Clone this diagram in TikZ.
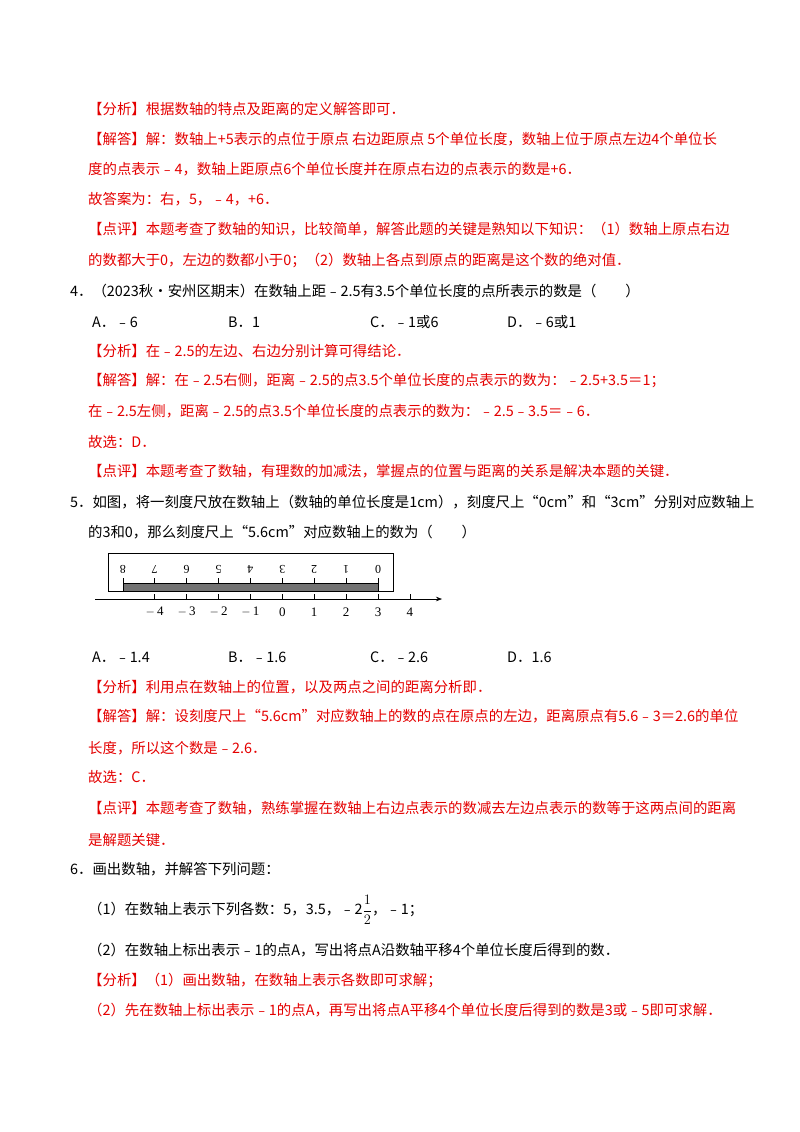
\documentclass[tikz,border=0pt]{standalone}
\usepackage{fontspec}
\usetikzlibrary{arrows.meta}
\setmainfont{Noto Sans CJK SC}
\newfontfamily\numf{Liberation Serif}
\definecolor{myred}{RGB}{228,0,0}
\begin{document}
\begin{tikzpicture}[x=1pt,y=-1pt,
  t/.style={anchor=west,inner sep=0pt,font=\fontsize{14.4}{14.4}\selectfont},
  r/.style={t,text=myred},
  rn/.style={font=\numf\fontsize{12}{12}\selectfont,rotate=180,inner sep=0pt},
  an/.style={font=\numf\fontsize{13}{13}\selectfont,inner sep=0pt}]
\useasboundingbox (0,0) rectangle (800,1132);
\node[r] (l1) at (88,109) {【分析】根据数轴的特点及距离的定义解答即可．};
\node[r] (l2) at (88,139) {【解答】解：数轴上+5表示的点位于原点 右边距原点 5个单位长度，数轴上位于原点左边4个单位长};
\node[r] (l3) at (88,169) {度的点表示﹣4，数轴上距原点6个单位长度并在原点右边的点表示的数是+6．};
\node[r] (l4) at (88,199) {故答案为：右，5，﹣4，+6．};
\node[r] (l5) at (88,229) {【点评】本题考查了数轴的知识，比较简单，解答此题的关键是熟知以下知识：（1）数轴上原点右边};
\node[r] (l6) at (88,260) {的数都大于0，左边的数都小于0；（2）数轴上各点到原点的距离是这个数的绝对值．};
\node[t] (q4) at (70,291) {4．（2023秋•安州区期末）在数轴上距﹣2.5有3.5个单位长度的点所表示的数是（　　）};
\node[t] (a4a) at (92,322) {A．﹣6};
\node[t] (a4b) at (228,322) {B．1};
\node[t] (a4c) at (370,322) {C．﹣1或6};
\node[t] (a4d) at (507,322) {D．﹣6或1};
\node[r] (m1) at (88,351) {【分析】在﹣2.5的左边、右边分别计算可得结论．};
\node[r] (m2) at (88,381) {【解答】解：在﹣2.5右侧，距离﹣2.5的点3.5个单位长度的点表示的数为：﹣2.5+3.5＝1；};
\node[r] (m3) at (88,411) {在﹣2.5左侧，距离﹣2.5的点3.5个单位长度的点表示的数为：﹣2.5﹣3.5＝﹣6．};
\node[r] (m4) at (88,442) {故选：\textit{D}．};
\node[r] (m5) at (88,471) {【点评】本题考查了数轴，有理数的加减法，掌握点的位置与距离的关系是解决本题的关键．};
\node[t] (q5) at (70,502) {5．如图，将一刻度尺放在数轴上（数轴的单位长度是1\textit{cm}），刻度尺上“0\textit{cm}”和“3\textit{cm}”分别对应数轴上};
\node[t] (q5b) at (88,532) {的3和0，那么刻度尺上“5.6\textit{cm}”对应数轴上的数为（　　）};
% ruler
\draw[line width=0.7pt] (108,553) rectangle (393,591);
\fill[black!55,draw=black,line width=0.6pt] (123,583) rectangle (378,591);
\foreach \i in {0,...,8}{
  \draw[line width=0.6pt] ({378-31.9*\i},583) -- ({378-31.9*\i},578);
  \node[rn] at ({378-31.9*\i},569) {\i};}
\draw[line width=0.6pt,-{Stealth[length=6pt]}] (95,599) -- (442,599);
\foreach \i in {-4,...,4}{
  \draw[line width=0.6pt] ({282.3+31.9*\i},599) -- ({282.3+31.9*\i},594);
  \node[an] at ({282.3+31.9*\i},612) {\ifnum\i<0 $-$\,\the\numexpr-\i\relax\else\i\fi};}
\node[t] (a5a) at (92,657) {A．﹣1.4};
\node[t] (a5b) at (228,657) {B．﹣1.6};
\node[t] (a5c) at (370,657) {C．﹣2.6};
\node[t] (a5d) at (507,657) {D．1.6};
\node[r] (n1) at (88,687) {【分析】利用点在数轴上的位置，以及两点之间的距离分析即．};
\node[r] (n2) at (88,716) {【解答】解：设刻度尺上“5.6\textit{cm}”对应数轴上的数的点在原点的左边，距离原点有5.6﹣3＝2.6的单位};
\node[r] (n3) at (88,748) {长度，所以这个数是﹣2.6．};
\node[r] (n4) at (88,777) {故选：\textit{C}．};
\node[r] (n5) at (88,808) {【点评】本题考查了数轴，熟练掌握在数轴上右边点表示的数减去左边点表示的数等于这两点间的距离};
\node[r] (n6) at (88,840) {是解题关键．};
\node[t] (q6) at (70,869) {6．画出数轴，并解答下列问题：};
\node[t] (q61) at (88,910) {（1）在数轴上表示下列各数：5，3.5，﹣2$\displaystyle\frac{1}{2}$，﹣1；};
\node[t] (q62) at (88,950) {（2）在数轴上标出表示﹣1的点\textit{A}，写出将点\textit{A}沿数轴平移4个单位长度后得到的数．};
\node[r] (p1) at (88,980) {【分析】（1）画出数轴，在数轴上表示各数即可求解；};
\node[r] (p2) at (88,1010) {（2）先在数轴上标出表示﹣1的点\textit{A}，再写出将点\textit{A}平移4个单位长度后得到的数是3或﹣5即可求解．};
\end{tikzpicture}
\end{document}
